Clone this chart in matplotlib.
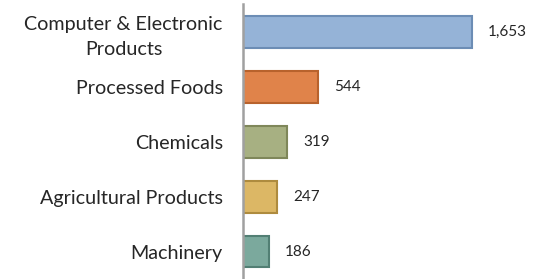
import matplotlib.pyplot as plt

# data
categories = ['Computer & Electronic\nProducts', 'Processed Foods', 'Chemicals',
              'Agricultural Products', 'Machinery']
values = [1653, 544, 319, 247, 186]
value_labels = ['1,653', '544', '319', '247', '186']

fills = ['#95B3D7', '#E0834A', '#A7B082', '#DCB765', '#7BA99D']
edges = ['#6C8DB5', '#B8622C', '#7F875A', '#AE8B3E', '#527F74']

plt.rcParams['font.family'] = ['Lato', 'DejaVu Sans']

fig = plt.figure(figsize=(5.43, 2.79), dpi=100)
ax = fig.add_axes([0.4475, 0.0, 0.5525, 0.984])

y = list(range(len(values)))
ax.barh(y, values, height=0.58, color=fills, edgecolor=edges, linewidth=1.5)
ax.set_ylim(4.5, -0.5)
ax.set_xlim(0, 2166)

for i, v in enumerate(values):
    ax.text(v + 115, i, value_labels[i], va='center', ha='left',
            fontsize=11, color='#262626')

ax.set_yticks(y)
ax.set_yticklabels(categories, fontsize=14.2, color='#262626', ha='right',
                   linespacing=1.55)
for lbl in ax.get_yticklabels():
    lbl.set_multialignment('center')
ax.tick_params(axis='y', length=0, pad=14.5)
ax.set_xticks([])

for s in ['top', 'right', 'bottom']:
    ax.spines[s].set_visible(False)
ax.spines['left'].set_color('#A0A0A0')
ax.spines['left'].set_linewidth(1.8)

fig.savefig('out.png', dpi=100)
